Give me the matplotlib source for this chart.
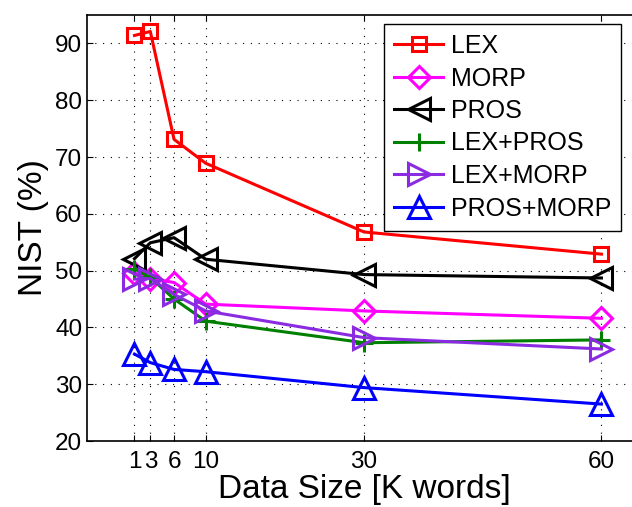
import matplotlib
matplotlib.use("Agg")
import matplotlib.pyplot as plt

plt.rcParams['font.family'] = ['Liberation Sans', 'DejaVu Sans']

data_size = [1, 3, 6, 10, 30, 60]
lex = [91.4, 92.1, 73.1, 68.9, 56.8, 52.9]
morp = [49.6, 48.6, 47.9, 44.1, 42.9, 41.6]
pros = [52.1, 54.9, 55.8, 52.0, 49.3, 48.7]
lex_pros = [50.3, 48.8, 45.0, 41.1, 37.3, 37.8]
lex_morp = [48.5, 48.6, 45.8, 42.9, 38.2, 36.2]
pros_morp = [35.3, 33.8, 32.6, 32.2, 29.4, 26.5]
series_names = ['LEX', 'MORP', 'PROS', 'LEX+PROS', 'LEX+MORP', 'PROS+MORP']
y_ticks = [20, 30, 40, 50, 60, 70, 80, 90]

series = [lex, morp, pros, lex_pros, lex_morp, pros_morp]
colors = ['#ff0000', '#ff00ff', '#000000', '#008000', '#8a2be2', '#0000ff']
markers = ['s', 'D', '<', '+', '>', '^']
msizes = [10, 11, 15.5, 13, 15.5, 15.5]

fig = plt.figure(figsize=(6.32, 5.07), dpi=100)
ax = fig.add_axes([87 / 632, 1 - 441 / 507, 554 / 632, 426 / 507])

for ys, name, c, m, ms in zip(series, series_names, colors, markers, msizes):
    ax.plot(data_size, ys, color=c, marker=m, markersize=ms,
            markerfacecolor='none', markeredgecolor=c, markeredgewidth=2.2,
            linewidth=2.2, label=name)

ax.set_xlim(-5, 65)
ax.set_ylim(20, 95)
ax.set_xticks(data_size)
ax.set_xticklabels([str(v) for v in data_size])
ax.set_yticks(y_ticks)
ax.tick_params(direction='in', top=True, right=True, labelsize=17.5,
               length=4, width=0.8)
ax.tick_params(axis='x', pad=7)
ax.grid(True, linestyle=(0, (1, 6)), color='black', linewidth=0.8)
for sp in ax.spines.values():
    sp.set_linewidth(1.2)

ax.set_xlabel('Data Size [K words]', fontsize=24, labelpad=1)
ax.set_ylabel('NIST (%)', fontsize=24, labelpad=4)

leg = ax.legend(loc='upper right', bbox_to_anchor=(621 / 632, 1 - 24 / 507),
                bbox_transform=fig.transFigure, borderaxespad=0,
                fontsize=18, handlelength=1.95, handletextpad=0.3,
                labelspacing=0.34, borderpad=0.4, fancybox=False,
                framealpha=1, edgecolor='black')
leg.get_frame().set_linewidth(1.0)

fig.savefig('out.png', dpi=100)
